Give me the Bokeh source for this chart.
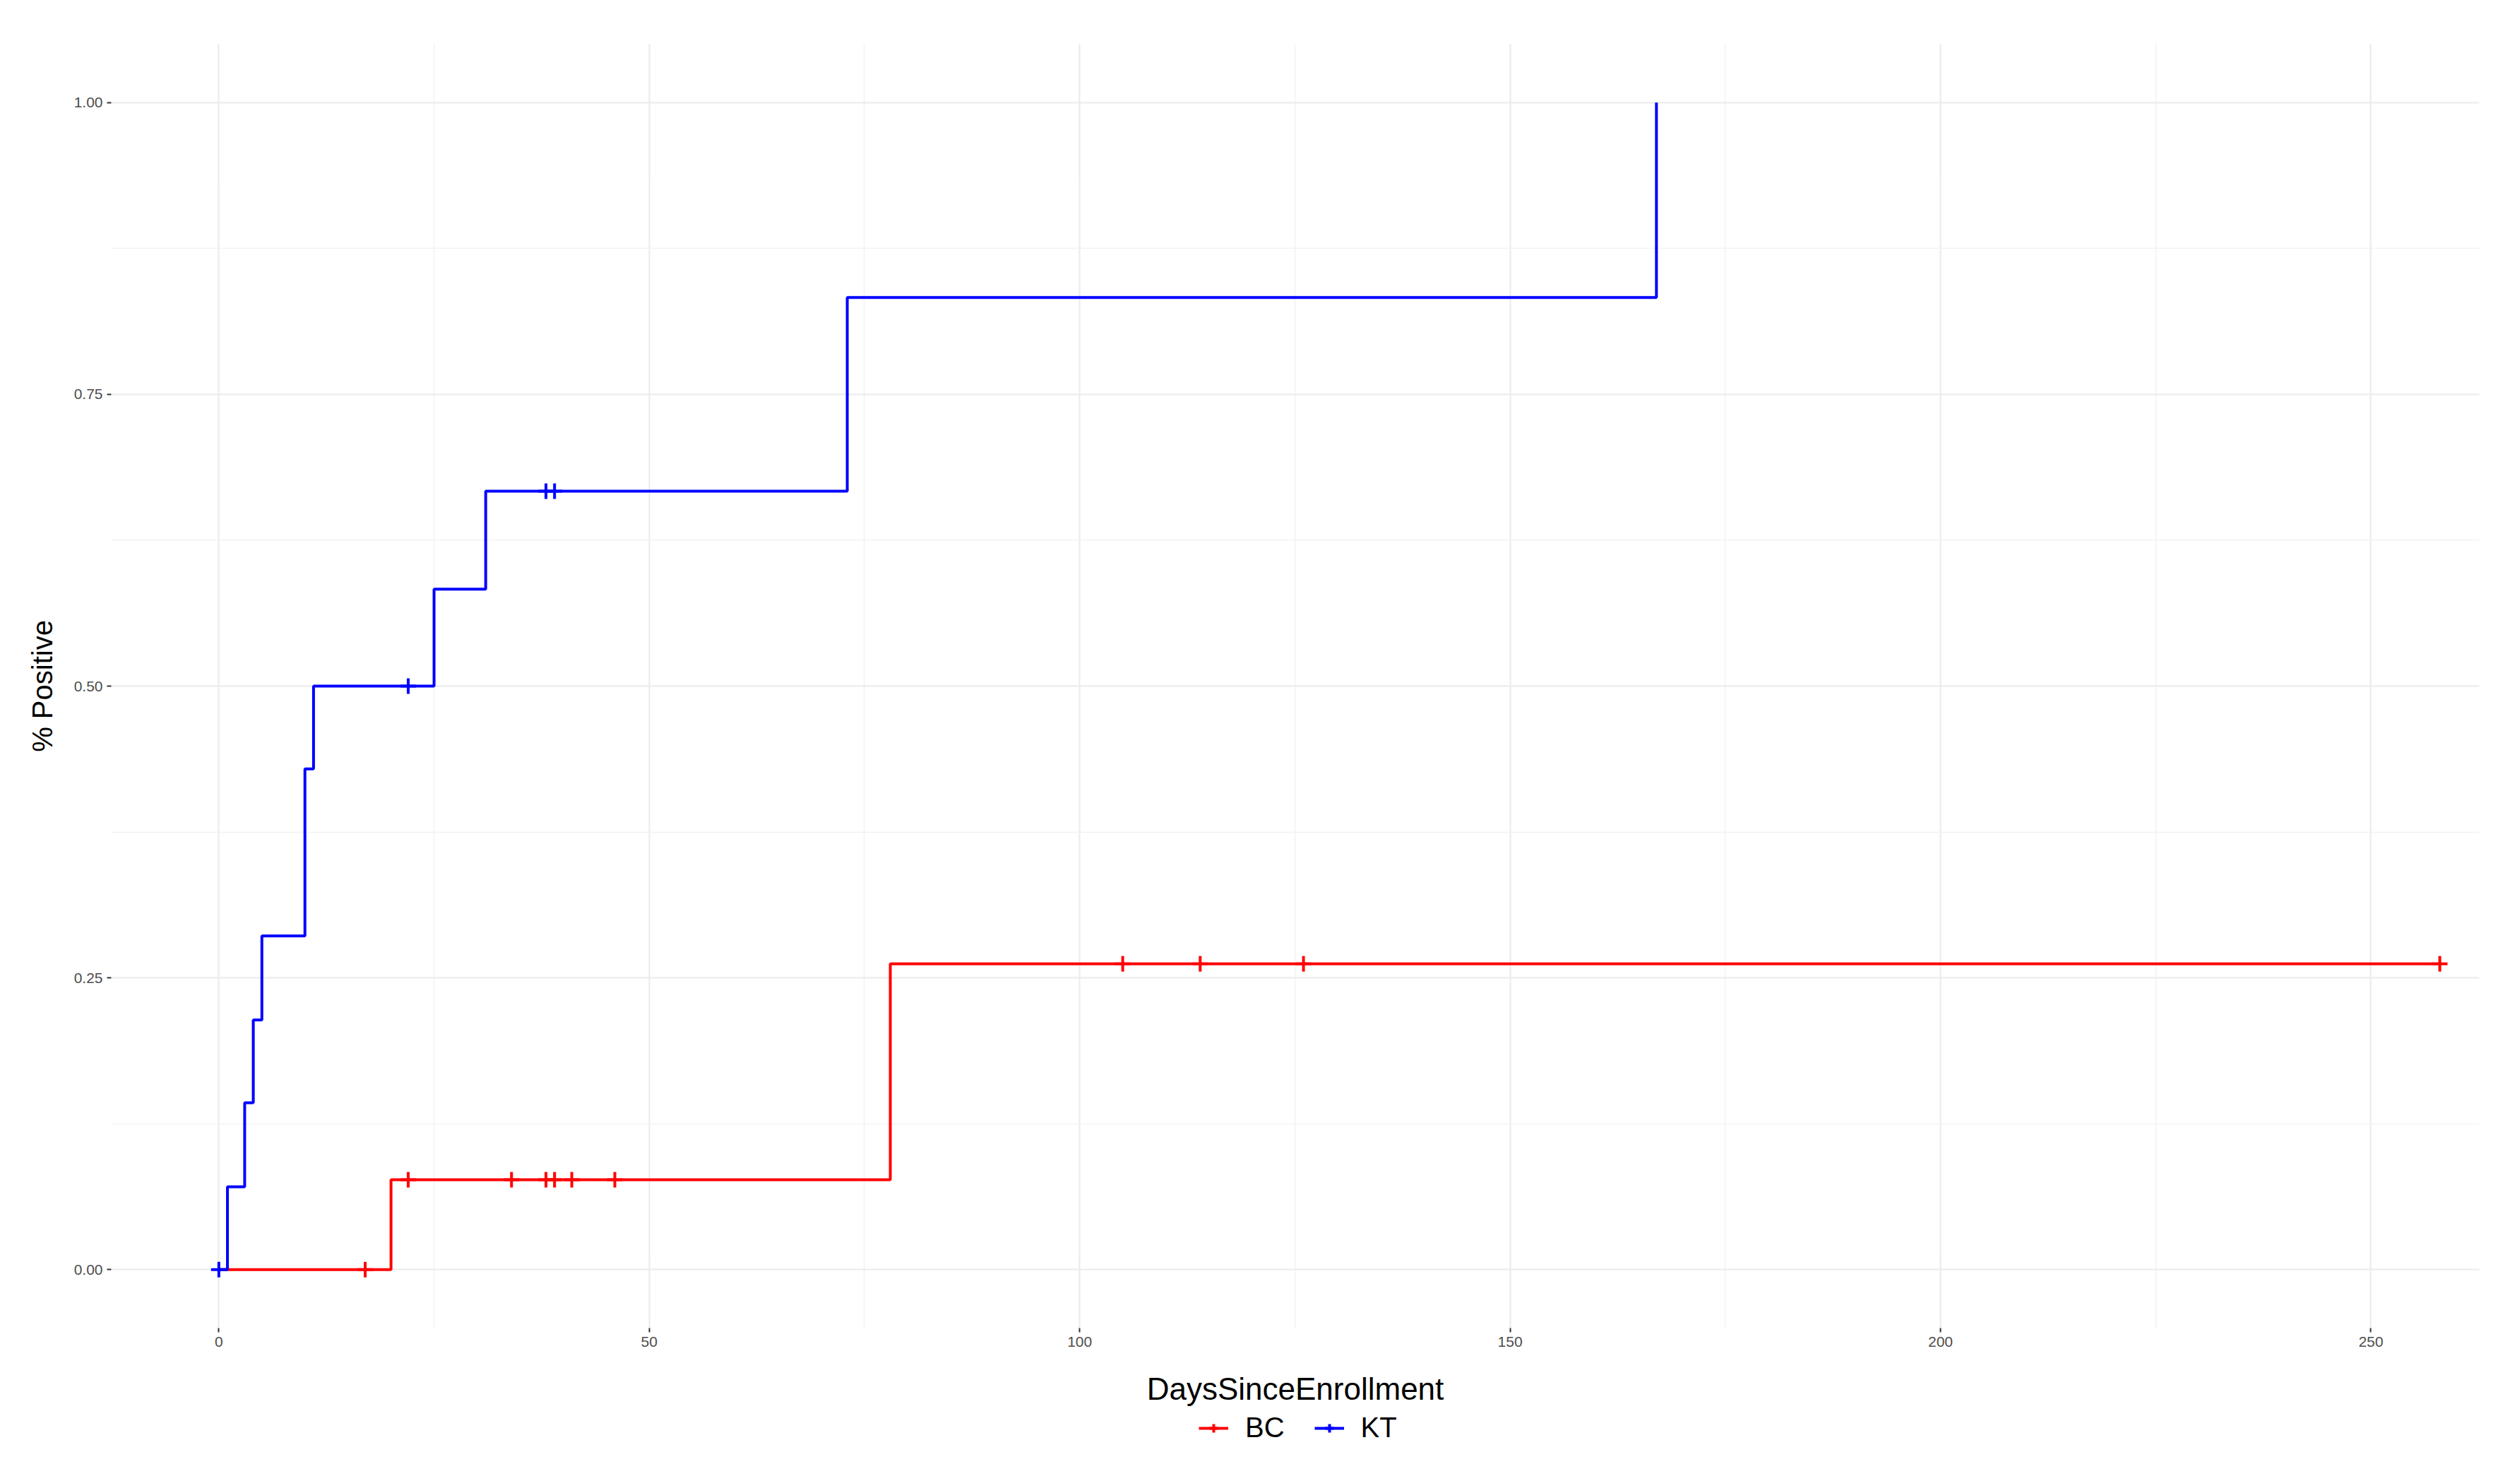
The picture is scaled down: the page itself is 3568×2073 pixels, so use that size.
from bokeh.plotting import figure
from bokeh.layouts import column
from bokeh.models import Range1d, SingleIntervalTicker, Legend, LegendItem, PrintfTickFormatter
from bokeh.embed import file_html
from bokeh.resources import INLINE

# ---- data ----
kt_days = [0, 1, 3, 4, 5, 10, 11, 25, 31, 73, 167]
kt_pos = [0.0, 0.071, 0.143, 0.214, 0.286, 0.429, 0.500, 0.583, 0.667, 0.833, 1.0]
bc_days = [0, 20, 78, 258]
bc_pos = [0.0, 0.077, 0.262, 0.262]

kt_cens_days = [0, 22, 38, 39]
kt_cens_pos = [0.0, 0.500, 0.667, 0.667]
bc_cens_days = [17, 22, 34, 38, 39, 41, 46, 105, 114, 126, 258]
bc_cens_pos = [0.0, 0.077, 0.077, 0.077, 0.077, 0.077, 0.077, 0.262, 0.262, 0.262, 0.262]

groups = ["BC", "KT"]
colors = ["#FF0000", "#0000FF"]
x_title = "DaysSinceEnrollment"
y_title = "% Positive"

W, H1, H2 = 3550, 1998, 59
p = figure(width=W, height=H1, output_backend="svg", toolbar_location=None,
           x_range=Range1d(-12.5, 262.6), y_range=Range1d(-0.05, 1.05),
           min_border_left=157, min_border_right=W - 3510, min_border_top=62,
           min_border_bottom=H1 - 1880)
p.outline_line_color = None
p.background_fill_color = "white"

p.xaxis.ticker = SingleIntervalTicker(interval=50, num_minor_ticks=2)
p.yaxis.ticker = SingleIntervalTicker(interval=0.25, num_minor_ticks=2)
p.yaxis.formatter = PrintfTickFormatter(format="%.2f")

for g in (p.xgrid, p.ygrid):
    g.grid_line_color = "#EBEBEB"
    g.grid_line_width = 2
    g.minor_grid_line_color = "#F2F2F2"
    g.minor_grid_line_width = 1.5

for ax in (p.xaxis, p.yaxis):
    ax.axis_line_color = None
    ax.minor_tick_line_color = None
    ax.major_tick_line_color = "#333333"
    ax.major_tick_line_width = 2
    ax.major_tick_out = 6
    ax.major_tick_in = 0
    ax.major_label_text_font = "Liberation Sans"
    ax.major_label_text_font_size = "21px"
    ax.major_label_text_color = "#4D4D4D"
    ax.major_label_standoff = 6
    ax.axis_label_text_font = "Liberation Sans"
    ax.axis_label_text_font_style = "normal"
    ax.axis_label_text_color = "black"

p.xaxis.axis_label = x_title
p.yaxis.axis_label = y_title
p.xaxis.axis_label_text_font_size = "44px"
p.yaxis.axis_label_text_font_size = "40px"
p.xaxis.axis_label_standoff = 32
p.yaxis.axis_label_standoff = 20

series = [(bc_days, bc_pos, bc_cens_days, bc_cens_pos),
          (kt_days, kt_pos, kt_cens_days, kt_cens_pos)]
for (d, v, cd, cv), c in zip(series, colors):
    p.step(d, v, mode="after", line_color=c, line_width=4)
for (d, v, cd, cv), c in zip(series, colors):
    p.scatter(cd, cv, marker="cross", size=22, line_color=c, line_width=4)

# ---- legend strip below the plot ----
q = figure(width=W, height=H2, output_backend="svg", toolbar_location=None,
           x_range=Range1d(1000, 1001), y_range=Range1d(1000, 1001),
           x_axis_location=None, y_axis_location=None, min_border=0)
q.outline_line_color = None
q.grid.visible = False
items = []
for (d, v, cd, cv), c, g in zip(series, colors, groups):
    ln = q.step(d, v, mode="after", line_color=c, line_width=4)
    cr = q.scatter(cd, cv, marker="cross", size=22, line_color=c, line_width=4)
    items.append(LegendItem(label=g, renderers=[ln, cr]))

legend = Legend(items=items, orientation="horizontal", location=(1540, 13))
legend.border_line_color = None
legend.background_fill_alpha = 0
legend.label_text_font = "Liberation Sans"
legend.label_text_font_size = "40px"
legend.label_text_color = "black"
legend.label_standoff = 24
legend.glyph_width = 42
legend.glyph_height = 30
legend.spacing = 42
legend.padding = 0
legend.margin = 0
q.add_layout(legend, "center")

layout = column(p, q, spacing=0)
open("out.html", "w").write(file_html(layout, INLINE))
